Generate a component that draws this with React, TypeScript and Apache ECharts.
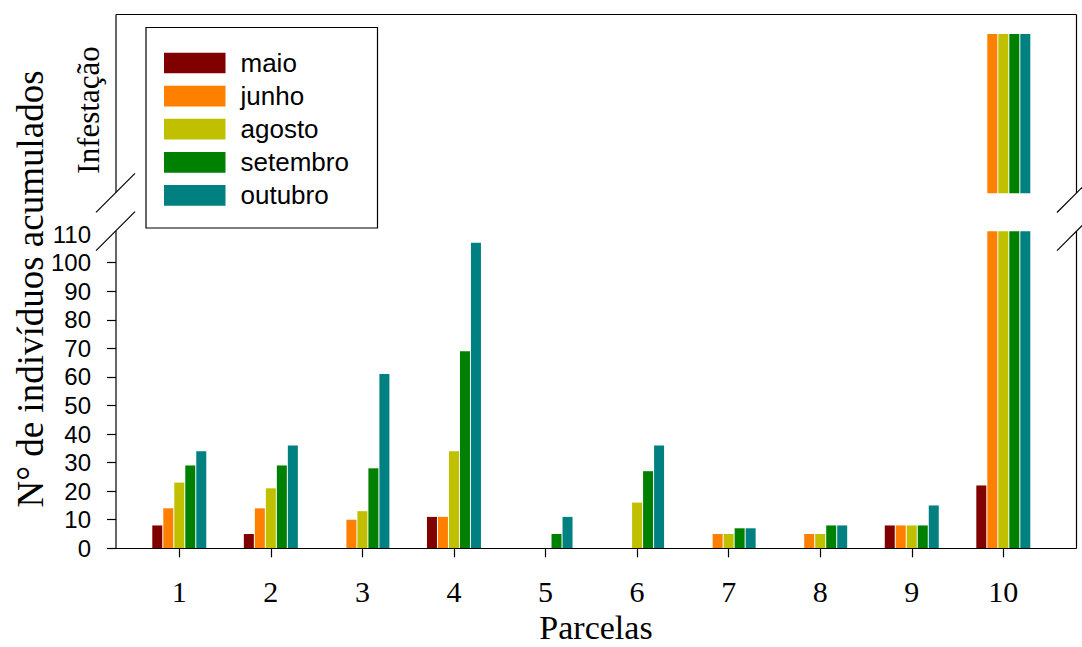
import React, { useEffect, useRef } from "react";
import * as echarts from "echarts";

const categories = ["1", "2", "3", "4", "5", "6", "7", "8", "9", "10"];
const seriesNames = ["maio", "junho", "agosto", "setembro", "outubro"];
const seriesColors = ["#800000", "#ff8000", "#c0c000", "#008000", "#008080"];

// lower panel (values above 110 are off-scale / "infestação", capped at 111)
const maio = [8, 5, 0, 11, 0, 0, 0, 0, 8, 22];
const junho = [14, 14, 10, 11, 0, 0, 5, 5, 8, 111];
const agosto = [23, 21, 13, 34, 0, 16, 5, 5, 8, 111];
const setembro = [29, 29, 28, 69, 5, 27, 7, 8, 8, 111];
const outubro = [34, 36, 61, 107, 11, 36, 7, 8, 15, 111];

// upper panel: infestation flags
const infMaio = [0, 0, 0, 0, 0, 0, 0, 0, 0, 0];
const infJunho = [0, 0, 0, 0, 0, 0, 0, 0, 0, 1];
const infAgosto = [0, 0, 0, 0, 0, 0, 0, 0, 0, 1];
const infSetembro = [0, 0, 0, 0, 0, 0, 0, 0, 0, 1];
const infOutubro = [0, 0, 0, 0, 0, 0, 0, 0, 0, 1];

const yLabelValues = [0, 10, 20, 30, 40, 50, 60, 70, 80, 90, 100, 110];
const yTickValues = [0, 10, 20, 30, 40, 50, 60, 70, 80, 90, 100];

const lowerData = [maio, junho, agosto, setembro, outubro];
const upperData = [infMaio, infJunho, infAgosto, infSetembro, infOutubro];

const SANS = "'Liberation Sans', Arial, Helvetica, sans-serif";
const SERIF = "'Liberation Serif', 'Times New Roman', serif";

export default function App() {
  const ref = useRef<HTMLDivElement>(null);
  useEffect(() => {
    if (!ref.current) return;
    const chart = echarts.init(ref.current, undefined, { renderer: "svg" });
    const line = (x1: number, y1: number, x2: number, y2: number) => ({
      type: "line",
      shape: { x1, y1, x2, y2 },
      style: { stroke: "#000", lineWidth: 1.2 },
      z: 5,
      silent: true,
    });
    const series: any[] = [];
    seriesNames.forEach((name, i) => {
      series.push({
        name,
        type: "bar",
        xAxisIndex: 0,
        yAxisIndex: 0,
        data: lowerData[i],
        barWidth: 10,
        barGap: "10%",
        clip: false,
        itemStyle: { color: seriesColors[i] },
      });
    });
    seriesNames.forEach((name, i) => {
      series.push({
        name,
        type: "bar",
        xAxisIndex: 1,
        yAxisIndex: 1,
        data: upperData[i],
        barWidth: 10,
        barGap: "10%",
        itemStyle: { color: seriesColors[i] },
      });
    });
    chart.setOption({
      animation: false,
      backgroundColor: "#fff",
      grid: [
        { left: 133.5, right: 32.9, top: 234.1, height: 314.2 },
        { left: 133.5, right: 32.9, top: 34, height: 159.3 },
      ],
      xAxis: [
        {
          type: "category",
          gridIndex: 0,
          data: categories,
          axisLine: { show: false },
          axisTick: {
            show: true,
            alignWithLabel: true,
            length: 9,
            lineStyle: { color: "#000", width: 1.2 },
          },
          axisLabel: {
            fontFamily: SERIF,
            fontSize: 30,
            color: "#000",
            margin: 28,
          },
        },
        {
          type: "category",
          gridIndex: 1,
          data: categories,
          show: false,
        },
      ],
      yAxis: [
        {
          type: "value",
          gridIndex: 0,
          min: 0,
          max: 110,
          interval: 10,
          offset: 17.5,
          splitLine: { show: false },
          axisLine: { show: false },
          axisTick: {
            show: true,
            length: 9,
            customValues: yTickValues,
            lineStyle: { color: "#000", width: 1.2 },
          },
          axisLabel: {
            fontFamily: SANS,
            fontSize: 24,
            color: "#000",
            margin: 25,
            customValues: yLabelValues,
          },
        },
        {
          type: "value",
          gridIndex: 1,
          min: 0,
          max: 1,
          show: false,
          splitLine: { show: false },
        },
      ],
      legend: {
        orient: "vertical",
        left: 164,
        top: 50,
        padding: 0,
        itemWidth: 61.5,
        itemHeight: 20.7,
        itemGap: 7.1,
        icon: "rect",
        data: seriesNames,
        z: 10,
        textStyle: {
          fontFamily: SANS,
          fontSize: 26,
          color: "#000",
          lineHeight: 20,
          padding: [0, 0, 0, 10],
        },
      },
      graphic: [
        {
          type: "rect",
          shape: { x: 146, y: 27.5, width: 231.5, height: 200.5 },
          style: { fill: "#fff", stroke: "#000", lineWidth: 1.2 },
          z: 1,
          silent: true,
        },
        line(116, 14.5, 1076.5, 14.5),
        line(116, 548.5, 1076.5, 548.5),
        line(116, 14.5, 116, 192.5),
        line(116, 231, 116, 548.5),
        line(1076.5, 14.5, 1076.5, 193),
        line(1076.5, 231, 1076.5, 548.5),
        line(96, 212.3, 135, 173.3),
        line(96, 250.7, 135, 211.7),
        line(1057, 212.5, 1096, 173.5),
        line(1057, 250.7, 1096, 211.7),
        {
          type: "text",
          x: 30,
          y: 289,
          rotation: Math.PI / 2,
          style: {
            text: "N° de indivíduos acumulados",
            fontFamily: SERIF,
            fontSize: 37,
            fill: "#000",
            align: "center",
            verticalAlign: "middle",
          },
          silent: true,
        },
        {
          type: "text",
          x: 88,
          y: 110,
          rotation: Math.PI / 2,
          style: {
            text: "Infestação",
            fontFamily: SERIF,
            fontSize: 31,
            fill: "#000",
            align: "center",
            verticalAlign: "middle",
          },
          silent: true,
        },
        {
          type: "text",
          x: 596,
          y: 627,
          style: {
            text: "Parcelas",
            fontFamily: SERIF,
            fontSize: 34,
            fill: "#000",
            align: "center",
            verticalAlign: "middle",
          },
          silent: true,
        },
      ],
      series,
    });
    return () => chart.dispose();
  }, []);
  return (
    <div
      ref={ref}
      style={{ position: "fixed", left: 0, top: 0, width: 1082, height: 647, background: "#fff" }}
    />
  );
}
